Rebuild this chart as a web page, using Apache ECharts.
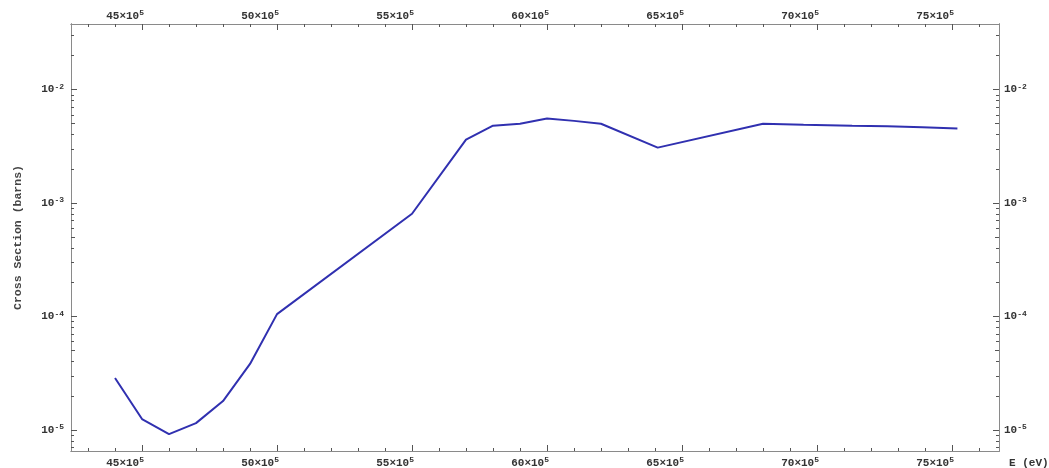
<!DOCTYPE html>
<html>
<head>
<meta charset="utf-8">
<script src="https://cdn.jsdelivr.net/npm/echarts@6/dist/echarts.min.js"></script>
<style>html,body{margin:0;padding:0;background:#fff;}#c{width:1049px;height:468px;}</style>
</head>
<body>
<div id="c"></div>
<script>
// Data (E in eV, cross section in barns)
const energies = [4400000, 4500000, 4600000, 4700000, 4800000, 4900000, 5000000, 5500000, 5700000, 5800000, 5900000, 6000000, 6100000, 6200000, 6410000, 6800000, 6950000, 7130000, 7260000, 7390000, 7520000];
const crossSections = [2.87e-5, 1.25e-5, 9.2e-6, 1.15e-5, 1.8e-5, 3.82e-5, 1.05e-4, 8.05e-4, 3.62e-3, 4.81e-3, 5.0e-3, 5.55e-3, 5.3e-3, 5.0e-3, 3.08e-3, 5.0e-3, 4.9e-3, 4.8e-3, 4.75e-3, 4.65e-3, 4.53e-3];
const xMajorTicks = [4500000, 5000000, 5500000, 6000000, 6500000, 7000000, 7500000];
const xMinorTicks = [4300000,4400000,4600000,4700000,4800000,4900000,5100000,5200000,5300000,5400000,5600000,5700000,5800000,5900000,6100000,6200000,6300000,6400000,6600000,6700000,6800000,6900000,7100000,7200000,7300000,7400000,7600000];
const yDecadeTicks = [1e-5, 1e-4, 1e-3, 1e-2];
const yFiveTicks = [5e-5, 5e-4, 5e-3];
const yMinorTicks = [7e-6,8e-6,9e-6, 2e-5,3e-5,4e-5,6e-5,7e-5,8e-5,9e-5, 2e-4,3e-4,4e-4,6e-4,7e-4,8e-4,9e-4, 2e-3,3e-3,4e-3,6e-3,7e-3,8e-3,9e-3, 2e-2,3e-2];

const X_MIN = 4237000, X_MAX = 7674000;
const Y_MIN = Math.pow(10, -5.185), Y_MAX = Math.pow(10, -1.422);

const FONT = 'Liberation Mono';
const rich = {
  b: {fontSize: 11, fontWeight: 'bold', fontFamily: FONT, color: '#333'},
  s: {fontSize: 8, fontWeight: 'bold', fontFamily: FONT, color: '#333', padding: [0, 0, 6, 0]}
};
const axisLineStyle = {color: '#8a8a8a', width: 1};
const tickStyle = {color: '#555', width: 1};

function xAxisDef(pos, ticks, len, labels) {
  return {
    type: 'value', position: pos, min: X_MIN, max: X_MAX,
    splitLine: {show: false},
    axisLine: {show: true, lineStyle: axisLineStyle},
    axisTick: {show: true, inside: true, length: len, customValues: ticks, lineStyle: tickStyle},
    axisLabel: labels ? {
      show: true, customValues: xMajorTicks, margin: pos === 'bottom' ? 5 : 1,
      align: 'right', padding: [0, -2, 0, 0],
      formatter: v => '{b|' + Math.round(v / 1e5) + '×10}{s|5}', rich: rich
    } : {show: false}
  };
}
function yAxisDef(pos, ticks, len, labels) {
  return {
    type: 'log', logBase: 10, position: pos, min: Y_MIN, max: Y_MAX,
    splitLine: {show: false},
    axisLine: {show: true, lineStyle: axisLineStyle},
    axisTick: {show: true, inside: true, length: len, customValues: ticks, lineStyle: tickStyle},
    axisLabel: labels ? {
      show: true, customValues: yDecadeTicks, margin: pos === 'left' ? 7 : 5,
      formatter: v => '{b|10}{s|-' + Math.round(-Math.log10(v)) + '}', rich: rich
    } : {show: false}
  };
}

const xAxes = [
  xAxisDef('bottom', xMajorTicks, 6, true),
  xAxisDef('bottom', xMinorTicks, 3, false),
  xAxisDef('top', xMajorTicks, 6, true),
  xAxisDef('top', xMinorTicks, 3, false)
];
xAxes[0].name = 'E (eV)';
xAxes[0].nameLocation = 'end';
xAxes[0].nameGap = 10;
xAxes[0].nameTextStyle = {fontFamily: FONT, fontWeight: 'bold', fontSize: 11, color: '#333', verticalAlign: 'top', padding: [7, 0, 0, 0]};

const yAxes = [
  yAxisDef('left', yDecadeTicks, 6, true),
  yAxisDef('left', yFiveTicks, 4, false),
  yAxisDef('left', yMinorTicks, 3, false),
  yAxisDef('right', yDecadeTicks, 6, true),
  yAxisDef('right', yFiveTicks, 4, false),
  yAxisDef('right', yMinorTicks, 3, false)
];
yAxes[0].name = 'Cross Section (barns)';
yAxes[0].nameLocation = 'middle';
yAxes[0].nameGap = 47;
yAxes[0].nameTextStyle = {fontFamily: FONT, fontWeight: 'bold', fontSize: 11.5, color: '#444'};

const chart = echarts.init(document.getElementById('c'), null, {renderer: 'canvas'});
chart.setOption({
  animation: false,
  backgroundColor: '#fff',
  grid: {left: 71, right: 50, top: 24, bottom: 17, containLabel: false, outerBoundsMode: 'none'},
  xAxis: xAxes,
  yAxis: yAxes,
  series: [{
    type: 'line', xAxisIndex: 0, yAxisIndex: 0,
    data: energies.map((e, i) => [e, crossSections[i]]),
    showSymbol: false, symbol: 'none',
    lineStyle: {color: '#3030b0', width: 2},
    silent: true
  }]
});
</script>
</body>
</html>
